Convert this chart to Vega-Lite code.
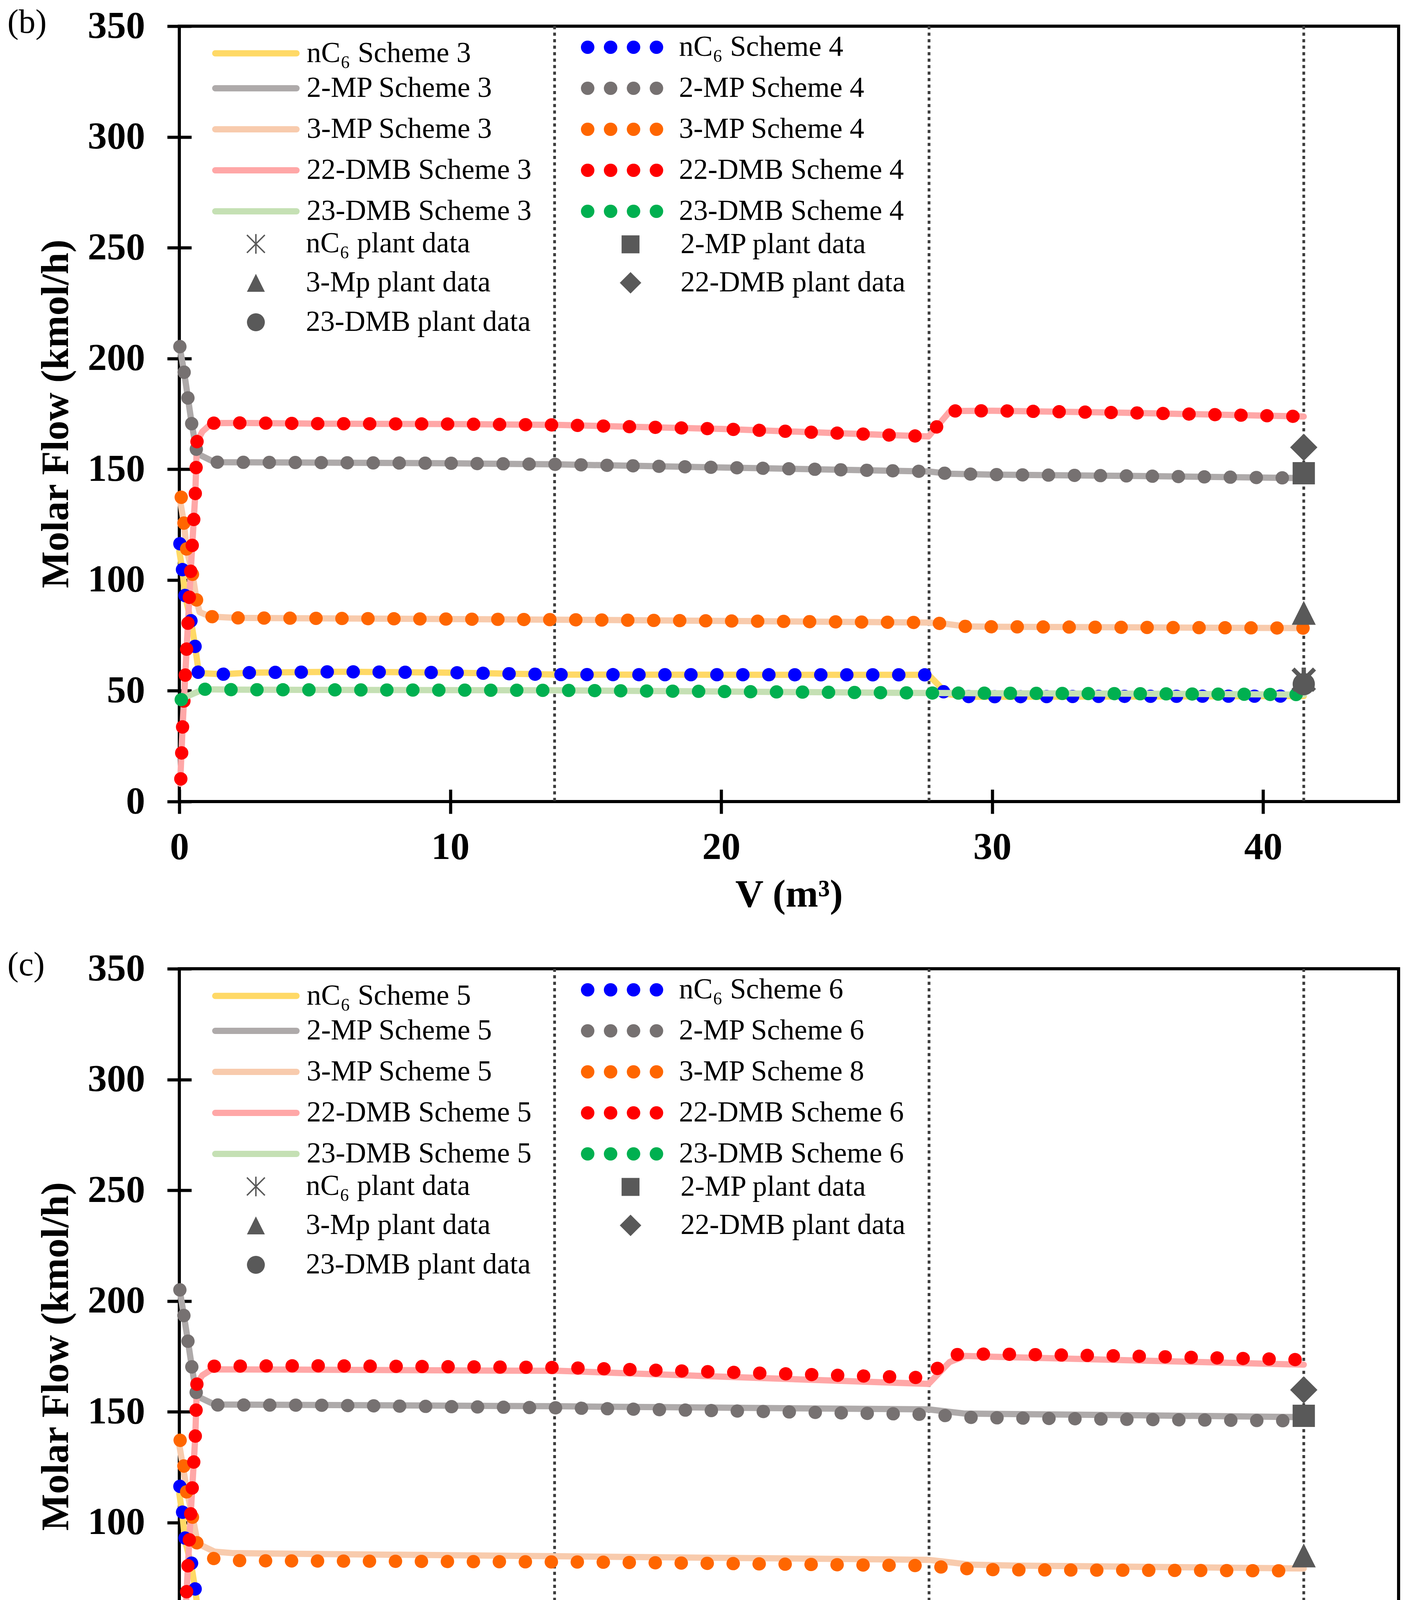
{
  "$schema": "https://vega.github.io/schema/vega-lite/v6.json",
  "background": "white",
  "padding": {"left": 15, "top": 11, "right": 10, "bottom": 10},
  "spacing": 80,
  "config": {
    "font": "Liberation Serif",
    "view": {"stroke": "black", "strokeWidth": 8},
    "axis": {"domain": false, "grid": false, "tickColor": "black", "tickWidth": 8, "tickSize": 62, "labelFont": "Liberation Serif", "labelFontWeight": "bold", "labelFontSize": 98, "labelColor": "black", "titleFont": "Liberation Serif", "titleFontWeight": "bold", "titleFontSize": 100, "titleColor": "black", "labelFlush": false, "labelOverlap": false},
    "legend": {"labelFont": "Liberation Serif", "labelFontSize": 74, "labelColor": "black", "labelLimit": 0}
  },
  "resolve": {"scale": {"color": "independent", "shape": "independent"}, "legend": {"color": "independent", "shape": "independent"}},
  "datasets": {
    "sections": [{"V": 13.85}, {"V": 27.67}, {"V": 41.5}],
    "plant": [
      {"label": "nC₆ plant data", "V": 41.5, "F": 55},
      {"label": "2-MP plant data", "V": 41.5, "F": 148.2},
      {"label": "3-Mp plant data", "V": 41.5, "F": 84.8},
      {"label": "22-DMB plant data", "V": 41.5, "F": 159.9},
      {"label": "23-DMB plant data", "V": 41.5, "F": 53}
    ],
    "b3": [
      {"series": "nC₆ Scheme 3", "V": 0, "F": 113}, {"series": "nC₆ Scheme 3", "V": 0.12, "F": 104}, {"series": "nC₆ Scheme 3", "V": 0.21, "F": 93}, {"series": "nC₆ Scheme 3", "V": 0.44, "F": 81}, {"series": "nC₆ Scheme 3", "V": 0.59, "F": 69.5}, {"series": "nC₆ Scheme 3", "V": 0.72, "F": 58}, {"series": "nC₆ Scheme 3", "V": 1.6, "F": 57.5}, {"series": "nC₆ Scheme 3", "V": 2.6, "F": 58.2}, {"series": "nC₆ Scheme 3", "V": 6, "F": 58.6}, {"series": "nC₆ Scheme 3", "V": 10, "F": 58.2}, {"series": "nC₆ Scheme 3", "V": 14, "F": 57.3}, {"series": "nC₆ Scheme 3", "V": 27.65, "F": 57.2}, {"series": "nC₆ Scheme 3", "V": 28.35, "F": 48.5}, {"series": "nC₆ Scheme 3", "V": 29.1, "F": 47.3}, {"series": "nC₆ Scheme 3", "V": 35, "F": 47.4}, {"series": "nC₆ Scheme 3", "V": 41.5, "F": 47.6},
      {"series": "2-MP Scheme 3", "V": 0, "F": 206}, {"series": "2-MP Scheme 3", "V": 0.18, "F": 193.7}, {"series": "2-MP Scheme 3", "V": 0.32, "F": 182}, {"series": "2-MP Scheme 3", "V": 0.46, "F": 170.3}, {"series": "2-MP Scheme 3", "V": 0.63, "F": 158.9}, {"series": "2-MP Scheme 3", "V": 0.75, "F": 156.5}, {"series": "2-MP Scheme 3", "V": 1.3, "F": 153.2}, {"series": "2-MP Scheme 3", "V": 5, "F": 153}, {"series": "2-MP Scheme 3", "V": 10, "F": 152.7}, {"series": "2-MP Scheme 3", "V": 14, "F": 152.2}, {"series": "2-MP Scheme 3", "V": 20, "F": 150.8}, {"series": "2-MP Scheme 3", "V": 27.65, "F": 149}, {"series": "2-MP Scheme 3", "V": 28.4, "F": 148}, {"series": "2-MP Scheme 3", "V": 30, "F": 147.6}, {"series": "2-MP Scheme 3", "V": 35, "F": 147}, {"series": "2-MP Scheme 3", "V": 41.5, "F": 146},
      {"series": "3-MP Scheme 3", "V": 0, "F": 138}, {"series": "3-MP Scheme 3", "V": 0.17, "F": 125.7}, {"series": "3-MP Scheme 3", "V": 0.27, "F": 114}, {"series": "3-MP Scheme 3", "V": 0.49, "F": 102.3}, {"series": "3-MP Scheme 3", "V": 0.64, "F": 90.8}, {"series": "3-MP Scheme 3", "V": 0.75, "F": 85.5}, {"series": "3-MP Scheme 3", "V": 1.15, "F": 83.5}, {"series": "3-MP Scheme 3", "V": 2.1, "F": 82.9}, {"series": "3-MP Scheme 3", "V": 14, "F": 82.1}, {"series": "3-MP Scheme 3", "V": 27.65, "F": 80.8}, {"series": "3-MP Scheme 3", "V": 28.3, "F": 80.2}, {"series": "3-MP Scheme 3", "V": 29, "F": 79.1}, {"series": "3-MP Scheme 3", "V": 30, "F": 78.9}, {"series": "3-MP Scheme 3", "V": 41.5, "F": 78.3},
      {"series": "22-DMB Scheme 3", "V": 0.03, "F": 8}, {"series": "22-DMB Scheme 3", "V": 0.12, "F": 33.6}, {"series": "22-DMB Scheme 3", "V": 0.27, "F": 68.9}, {"series": "22-DMB Scheme 3", "V": 0.42, "F": 103.9}, {"series": "22-DMB Scheme 3", "V": 0.59, "F": 139}, {"series": "22-DMB Scheme 3", "V": 0.65, "F": 162.4}, {"series": "22-DMB Scheme 3", "V": 0.85, "F": 167}, {"series": "22-DMB Scheme 3", "V": 1.2, "F": 170.8}, {"series": "22-DMB Scheme 3", "V": 2.2, "F": 170.9}, {"series": "22-DMB Scheme 3", "V": 5, "F": 170.6}, {"series": "22-DMB Scheme 3", "V": 10, "F": 170.4}, {"series": "22-DMB Scheme 3", "V": 14, "F": 170}, {"series": "22-DMB Scheme 3", "V": 20, "F": 168.2}, {"series": "22-DMB Scheme 3", "V": 27.65, "F": 164.8}, {"series": "22-DMB Scheme 3", "V": 28.45, "F": 176.3}, {"series": "22-DMB Scheme 3", "V": 30, "F": 176.4}, {"series": "22-DMB Scheme 3", "V": 35, "F": 175.5}, {"series": "22-DMB Scheme 3", "V": 41.5, "F": 173.8},
      {"series": "23-DMB Scheme 3", "V": 0, "F": 46}, {"series": "23-DMB Scheme 3", "V": 0.9, "F": 50.7}, {"series": "23-DMB Scheme 3", "V": 2, "F": 50.5}, {"series": "23-DMB Scheme 3", "V": 14, "F": 50.2}, {"series": "23-DMB Scheme 3", "V": 27.65, "F": 49}, {"series": "23-DMB Scheme 3", "V": 35, "F": 48.7}, {"series": "23-DMB Scheme 3", "V": 41.5, "F": 48.3}
    ],
    "b4": [
      {"series": "nC₆ Scheme 4", "V": 0.02, "F": 116.4}, {"series": "nC₆ Scheme 4", "V": 0.12, "F": 104.2}, {"series": "nC₆ Scheme 4", "V": 0.21, "F": 92.8}, {"series": "nC₆ Scheme 4", "V": 0.44, "F": 81.1}, {"series": "nC₆ Scheme 4", "V": 0.59, "F": 69.4}, {"series": "nC₆ Scheme 4", "V": 0.7, "F": 58}, {"series": "nC₆ Scheme 4", "V": 1.62, "F": 57.5}, {"series": "nC₆ Scheme 4", "V": 2.59, "F": 58.2}, {"series": "nC₆ Scheme 4", "V": 6, "F": 58.6}, {"series": "nC₆ Scheme 4", "V": 10, "F": 58.2}, {"series": "nC₆ Scheme 4", "V": 14, "F": 57.3}, {"series": "nC₆ Scheme 4", "V": 27.6, "F": 57.2}, {"series": "nC₆ Scheme 4", "V": 28.26, "F": 48.9}, {"series": "nC₆ Scheme 4", "V": 29.2, "F": 47.3}, {"series": "nC₆ Scheme 4", "V": 35, "F": 47.5}, {"series": "nC₆ Scheme 4", "V": 41.5, "F": 47.6},
      {"series": "2-MP Scheme 4", "V": 0.02, "F": 205.4}, {"series": "2-MP Scheme 4", "V": 0.18, "F": 193.7}, {"series": "2-MP Scheme 4", "V": 0.32, "F": 182}, {"series": "2-MP Scheme 4", "V": 0.46, "F": 170.3}, {"series": "2-MP Scheme 4", "V": 0.63, "F": 158.9}, {"series": "2-MP Scheme 4", "V": 0.75, "F": 156.5}, {"series": "2-MP Scheme 4", "V": 1.3, "F": 153.2}, {"series": "2-MP Scheme 4", "V": 5, "F": 153}, {"series": "2-MP Scheme 4", "V": 10, "F": 152.7}, {"series": "2-MP Scheme 4", "V": 14, "F": 152.2}, {"series": "2-MP Scheme 4", "V": 20, "F": 150.8}, {"series": "2-MP Scheme 4", "V": 27.65, "F": 149}, {"series": "2-MP Scheme 4", "V": 28.4, "F": 148}, {"series": "2-MP Scheme 4", "V": 30, "F": 147.6}, {"series": "2-MP Scheme 4", "V": 35, "F": 147}, {"series": "2-MP Scheme 4", "V": 41.5, "F": 146},
      {"series": "3-MP Scheme 4", "V": 0.07, "F": 137.4}, {"series": "3-MP Scheme 4", "V": 0.17, "F": 125.7}, {"series": "3-MP Scheme 4", "V": 0.27, "F": 114}, {"series": "3-MP Scheme 4", "V": 0.49, "F": 102.3}, {"series": "3-MP Scheme 4", "V": 0.64, "F": 90.8}, {"series": "3-MP Scheme 4", "V": 0.75, "F": 85.5}, {"series": "3-MP Scheme 4", "V": 1.15, "F": 83.5}, {"series": "3-MP Scheme 4", "V": 2.1, "F": 82.9}, {"series": "3-MP Scheme 4", "V": 14, "F": 82.1}, {"series": "3-MP Scheme 4", "V": 27.65, "F": 80.8}, {"series": "3-MP Scheme 4", "V": 28.3, "F": 80.2}, {"series": "3-MP Scheme 4", "V": 29, "F": 79.1}, {"series": "3-MP Scheme 4", "V": 30, "F": 78.9}, {"series": "3-MP Scheme 4", "V": 41.5, "F": 78.3},
      {"series": "22-DMB Scheme 4", "V": 0.055, "F": 10.2}, {"series": "22-DMB Scheme 4", "V": 0.12, "F": 33.6}, {"series": "22-DMB Scheme 4", "V": 0.27, "F": 68.9}, {"series": "22-DMB Scheme 4", "V": 0.42, "F": 103.9}, {"series": "22-DMB Scheme 4", "V": 0.59, "F": 139}, {"series": "22-DMB Scheme 4", "V": 0.65, "F": 162.4}, {"series": "22-DMB Scheme 4", "V": 0.85, "F": 167}, {"series": "22-DMB Scheme 4", "V": 1.2, "F": 170.8}, {"series": "22-DMB Scheme 4", "V": 2.2, "F": 170.9}, {"series": "22-DMB Scheme 4", "V": 5, "F": 170.6}, {"series": "22-DMB Scheme 4", "V": 10, "F": 170.4}, {"series": "22-DMB Scheme 4", "V": 14, "F": 170}, {"series": "22-DMB Scheme 4", "V": 20, "F": 168.2}, {"series": "22-DMB Scheme 4", "V": 27.65, "F": 164.8}, {"series": "22-DMB Scheme 4", "V": 28.45, "F": 176.3}, {"series": "22-DMB Scheme 4", "V": 30, "F": 176.4}, {"series": "22-DMB Scheme 4", "V": 35, "F": 175.5}, {"series": "22-DMB Scheme 4", "V": 41.5, "F": 173.8},
      {"series": "23-DMB Scheme 4", "V": 0.07, "F": 46}, {"series": "23-DMB Scheme 4", "V": 0.9, "F": 50.7}, {"series": "23-DMB Scheme 4", "V": 2, "F": 50.5}, {"series": "23-DMB Scheme 4", "V": 14, "F": 50.2}, {"series": "23-DMB Scheme 4", "V": 27.65, "F": 49}, {"series": "23-DMB Scheme 4", "V": 35, "F": 48.7}, {"series": "23-DMB Scheme 4", "V": 41.5, "F": 48.3}
    ],
    "c5": [
      {"series": "nC₆ Scheme 5", "V": 0, "F": 113}, {"series": "nC₆ Scheme 5", "V": 0.12, "F": 103}, {"series": "nC₆ Scheme 5", "V": 0.21, "F": 92}, {"series": "nC₆ Scheme 5", "V": 0.44, "F": 81}, {"series": "nC₆ Scheme 5", "V": 0.59, "F": 69.5}, {"series": "nC₆ Scheme 5", "V": 0.72, "F": 57}, {"series": "nC₆ Scheme 5", "V": 1.5, "F": 56.5}, {"series": "nC₆ Scheme 5", "V": 5, "F": 57}, {"series": "nC₆ Scheme 5", "V": 10, "F": 56.6}, {"series": "nC₆ Scheme 5", "V": 14, "F": 55.9}, {"series": "nC₆ Scheme 5", "V": 27.65, "F": 55.7}, {"series": "nC₆ Scheme 5", "V": 28.45, "F": 46.1}, {"series": "nC₆ Scheme 5", "V": 35, "F": 46.3}, {"series": "nC₆ Scheme 5", "V": 41.5, "F": 46.6},
      {"series": "2-MP Scheme 5", "V": 0, "F": 206}, {"series": "2-MP Scheme 5", "V": 0.17, "F": 193.4}, {"series": "2-MP Scheme 5", "V": 0.32, "F": 181.8}, {"series": "2-MP Scheme 5", "V": 0.46, "F": 170.4}, {"series": "2-MP Scheme 5", "V": 0.62, "F": 158.8}, {"series": "2-MP Scheme 5", "V": 0.75, "F": 156.5}, {"series": "2-MP Scheme 5", "V": 1.3, "F": 153.3}, {"series": "2-MP Scheme 5", "V": 5, "F": 153.1}, {"series": "2-MP Scheme 5", "V": 14, "F": 152.5}, {"series": "2-MP Scheme 5", "V": 27.65, "F": 151.1}, {"series": "2-MP Scheme 5", "V": 29, "F": 149.2}, {"series": "2-MP Scheme 5", "V": 35, "F": 148.5}, {"series": "2-MP Scheme 5", "V": 41.5, "F": 147.6},
      {"series": "3-MP Scheme 5", "V": 0, "F": 135}, {"series": "3-MP Scheme 5", "V": 0.3, "F": 113}, {"series": "3-MP Scheme 5", "V": 0.5, "F": 102}, {"series": "3-MP Scheme 5", "V": 0.68, "F": 90.5}, {"series": "3-MP Scheme 5", "V": 1.3, "F": 86.9}, {"series": "3-MP Scheme 5", "V": 2, "F": 86.2}, {"series": "3-MP Scheme 5", "V": 14, "F": 84.8}, {"series": "3-MP Scheme 5", "V": 27.65, "F": 83.2}, {"series": "3-MP Scheme 5", "V": 29.2, "F": 81}, {"series": "3-MP Scheme 5", "V": 30.9, "F": 80.6}, {"series": "3-MP Scheme 5", "V": 41.5, "F": 79.3},
      {"series": "22-DMB Scheme 5", "V": 0.03, "F": 8}, {"series": "22-DMB Scheme 5", "V": 0.12, "F": 33.6}, {"series": "22-DMB Scheme 5", "V": 0.27, "F": 68.9}, {"series": "22-DMB Scheme 5", "V": 0.42, "F": 103.9}, {"series": "22-DMB Scheme 5", "V": 0.59, "F": 139}, {"series": "22-DMB Scheme 5", "V": 0.65, "F": 162.8}, {"series": "22-DMB Scheme 5", "V": 0.85, "F": 166.5}, {"series": "22-DMB Scheme 5", "V": 1.2, "F": 169.2}, {"series": "22-DMB Scheme 5", "V": 5, "F": 169}, {"series": "22-DMB Scheme 5", "V": 14, "F": 168.5}, {"series": "22-DMB Scheme 5", "V": 27.65, "F": 162.6}, {"series": "22-DMB Scheme 5", "V": 28.43, "F": 172.5}, {"series": "22-DMB Scheme 5", "V": 29, "F": 175.2}, {"series": "22-DMB Scheme 5", "V": 35, "F": 173.3}, {"series": "22-DMB Scheme 5", "V": 41.5, "F": 171.3},
      {"series": "23-DMB Scheme 5", "V": 0, "F": 46}, {"series": "23-DMB Scheme 5", "V": 0.9, "F": 50.6}, {"series": "23-DMB Scheme 5", "V": 2, "F": 50.3}, {"series": "23-DMB Scheme 5", "V": 14, "F": 49.9}, {"series": "23-DMB Scheme 5", "V": 27.65, "F": 49}, {"series": "23-DMB Scheme 5", "V": 41.5, "F": 48.5}
    ],
    "c6": [
      {"series": "nC₆ Scheme 6", "V": 0.02, "F": 116.4}, {"series": "nC₆ Scheme 6", "V": 0.12, "F": 104.7}, {"series": "nC₆ Scheme 6", "V": 0.21, "F": 93}, {"series": "nC₆ Scheme 6", "V": 0.46, "F": 81.3}, {"series": "nC₆ Scheme 6", "V": 0.59, "F": 69.6}, {"series": "nC₆ Scheme 6", "V": 0.7, "F": 58}, {"series": "nC₆ Scheme 6", "V": 1.62, "F": 57.4}, {"series": "nC₆ Scheme 6", "V": 2.6, "F": 58}, {"series": "nC₆ Scheme 6", "V": 5, "F": 58.6}, {"series": "nC₆ Scheme 6", "V": 8, "F": 58.5}, {"series": "nC₆ Scheme 6", "V": 10, "F": 58.2}, {"series": "nC₆ Scheme 6", "V": 14, "F": 57.3}, {"series": "nC₆ Scheme 6", "V": 27.6, "F": 57}, {"series": "nC₆ Scheme 6", "V": 28.3, "F": 49.5}, {"series": "nC₆ Scheme 6", "V": 29.1, "F": 48}, {"series": "nC₆ Scheme 6", "V": 35, "F": 47.9}, {"series": "nC₆ Scheme 6", "V": 41.5, "F": 47.8},
      {"series": "2-MP Scheme 6", "V": 0.02, "F": 205.1}, {"series": "2-MP Scheme 6", "V": 0.17, "F": 193.4}, {"series": "2-MP Scheme 6", "V": 0.32, "F": 181.8}, {"series": "2-MP Scheme 6", "V": 0.46, "F": 170.4}, {"series": "2-MP Scheme 6", "V": 0.62, "F": 158.8}, {"series": "2-MP Scheme 6", "V": 0.75, "F": 156.5}, {"series": "2-MP Scheme 6", "V": 1.3, "F": 153.1}, {"series": "2-MP Scheme 6", "V": 5, "F": 153}, {"series": "2-MP Scheme 6", "V": 14, "F": 151.8}, {"series": "2-MP Scheme 6", "V": 27.3, "F": 148.9}, {"series": "2-MP Scheme 6", "V": 28.3, "F": 148.3}, {"series": "2-MP Scheme 6", "V": 29.2, "F": 147.5}, {"series": "2-MP Scheme 6", "V": 30.2, "F": 147.3}, {"series": "2-MP Scheme 6", "V": 35, "F": 146.6}, {"series": "2-MP Scheme 6", "V": 41.5, "F": 145.9},
      {"series": "3-MP Scheme 8", "V": 0.03, "F": 137.2}, {"series": "3-MP Scheme 8", "V": 0.17, "F": 125.5}, {"series": "3-MP Scheme 8", "V": 0.27, "F": 113.9}, {"series": "3-MP Scheme 8", "V": 0.49, "F": 102.2}, {"series": "3-MP Scheme 8", "V": 0.65, "F": 90.8}, {"series": "3-MP Scheme 8", "V": 0.8, "F": 85.5}, {"series": "3-MP Scheme 8", "V": 1.35, "F": 83.5}, {"series": "3-MP Scheme 8", "V": 2.3, "F": 82.8}, {"series": "3-MP Scheme 8", "V": 15, "F": 82.2}, {"series": "3-MP Scheme 8", "V": 27.2, "F": 80.6}, {"series": "3-MP Scheme 8", "V": 28.2, "F": 79.9}, {"series": "3-MP Scheme 8", "V": 29.1, "F": 79.2}, {"series": "3-MP Scheme 8", "V": 30.2, "F": 78.7}, {"series": "3-MP Scheme 8", "V": 41.5, "F": 78.2},
      {"series": "22-DMB Scheme 6", "V": 0.055, "F": 10.2}, {"series": "22-DMB Scheme 6", "V": 0.12, "F": 33.6}, {"series": "22-DMB Scheme 6", "V": 0.27, "F": 68.9}, {"series": "22-DMB Scheme 6", "V": 0.42, "F": 103.9}, {"series": "22-DMB Scheme 6", "V": 0.59, "F": 139}, {"series": "22-DMB Scheme 6", "V": 0.65, "F": 162.8}, {"series": "22-DMB Scheme 6", "V": 0.85, "F": 167}, {"series": "22-DMB Scheme 6", "V": 1.25, "F": 170.6}, {"series": "22-DMB Scheme 6", "V": 5, "F": 170.8}, {"series": "22-DMB Scheme 6", "V": 14, "F": 170}, {"series": "22-DMB Scheme 6", "V": 27.2, "F": 165.5}, {"series": "22-DMB Scheme 6", "V": 27.65, "F": 165.3}, {"series": "22-DMB Scheme 6", "V": 28.45, "F": 175.8}, {"series": "22-DMB Scheme 6", "V": 30, "F": 176.1}, {"series": "22-DMB Scheme 6", "V": 35, "F": 175.2}, {"series": "22-DMB Scheme 6", "V": 41.5, "F": 173.5},
      {"series": "23-DMB Scheme 6", "V": 0.03, "F": 46}, {"series": "23-DMB Scheme 6", "V": 0.9, "F": 50.8}, {"series": "23-DMB Scheme 6", "V": 2, "F": 50.4}, {"series": "23-DMB Scheme 6", "V": 12.4, "F": 50.1}, {"series": "23-DMB Scheme 6", "V": 27.7, "F": 49.2}, {"series": "23-DMB Scheme 6", "V": 29.7, "F": 49.2}, {"series": "23-DMB Scheme 6", "V": 41.5, "F": 48.4}
    ]
  },
  "vconcat": [
    {
      "width": 3121, "height": 1985,
      "title": {"text": "(b)", "anchor": "start", "frame": "group", "orient": "none", "align": "left", "fontSize": 86, "fontWeight": "normal", "font": "Liberation Serif", "color": "black", "baseline": "alphabetic", "offset": 0, "dx": -440, "dy": 17},
      "layer": [
        {
          "data": {"name": "sections"},
          "mark": {"type": "rule", "strokeDash": [8, 8.6], "strokeWidth": 7, "color": "#3c3c3c"},
          "encoding": {"x": {"field": "V", "type": "quantitative", "scale": {"domain": [0, 45], "nice": false}, "axis": {"values": [0, 10, 20, 30, 40], "format": "d", "offset": -31, "labelPadding": 38, "title": "V (m³)", "titleY": 299, "titleBaseline": "alphabetic"}}}
        },
        {
          "data": {"name": "b3"},
          "transform": [{"filter": {"field": "series", "oneOf": ["nC₆ Scheme 3", "2-MP Scheme 3", "3-MP Scheme 3", "22-DMB Scheme 3"]}}],
          "mark": {"type": "line", "strokeWidth": 16, "strokeCap": "round", "strokeJoin": "round"},
          "encoding": {
            "x": {"field": "V", "type": "quantitative", "scale": {"domain": [0, 45], "nice": false}, "axis": {"values": [0, 10, 20, 30, 40], "format": "d", "offset": -31, "labelPadding": 38, "title": "V (m³)", "titleY": 299, "titleBaseline": "alphabetic"}},
            "y": {"field": "F", "type": "quantitative", "scale": {"domain": [0, 350], "nice": false}, "axis": {"values": [0, 50, 100, 150, 200, 250, 300, 350], "offset": -31, "labelPadding": 57, "title": "Molar Flow (kmol/h)", "titleX": -347, "titleY": 992, "titleBaseline": "middle"}},
            "color": {"field": "series", "type": "nominal", "sort": null,
              "scale": {"domain": ["nC₆ Scheme 3", "nC₆ Scheme 4", "2-MP Scheme 3", "2-MP Scheme 4", "3-MP Scheme 3", "3-MP Scheme 4", "22-DMB Scheme 3", "22-DMB Scheme 4", "23-DMB Scheme 3", "23-DMB Scheme 4"], "range": ["#FFD966", "#0000FF", "#AEAAAA", "#767171", "#F8CBAD", "#FF6600", "#FFA7A7", "#FF0000", "#C5E0B4", "#00B050"]},
              "legend": {"title": null, "orient": "none", "legendX": 84, "legendY": 17, "direction": "horizontal", "columns": 2, "gridAlign": "all", "symbolType": "M-5.2,0L5.2,0", "symbolSize": 1600, "symbolStrokeWidth": 16, "symbolOffset": 75, "labelOffset": 93, "rowPadding": -43, "columnPadding": 75, "padding": 0,
                "encode": {"symbols": {"update": {"strokeWidth": {"signal": "datum.index % 2 ? 34 : 16"}, "strokeDash": {"signal": "datum.index % 2 ? [0.5, 58.2] : [1, 0]"}, "strokeCap": {"value": "round"}}}}}}
          }
        },
        {
          "data": {"name": "b4"},
          "transform": [{"filter": {"field": "series", "oneOf": ["nC₆ Scheme 4", "2-MP Scheme 4", "3-MP Scheme 4", "22-DMB Scheme 4"]}}],
          "mark": {"type": "line", "strokeWidth": 34, "strokeCap": "round", "strokeJoin": "round", "strokeDash": [0.5, 66]},
          "encoding": {
            "x": {"field": "V", "type": "quantitative"},
            "y": {"field": "F", "type": "quantitative", "axis": {"values": [0, 50, 100, 150, 200, 250, 300, 350], "offset": -31, "labelPadding": 57, "title": "Molar Flow (kmol/h)", "titleX": -347, "titleY": 992, "titleBaseline": "middle"}},
            "color": {"field": "series", "type": "nominal", "sort": null}
          }
        },
        {
          "data": {"name": "b3"},
          "transform": [{"filter": {"field": "series", "equal": "23-DMB Scheme 3"}}],
          "mark": {"type": "line", "strokeWidth": 16, "strokeCap": "round", "strokeJoin": "round"},
          "encoding": {
            "x": {"field": "V", "type": "quantitative"},
            "y": {"field": "F", "type": "quantitative", "axis": {"values": [0, 50, 100, 150, 200, 250, 300, 350], "offset": -31, "labelPadding": 57, "title": "Molar Flow (kmol/h)", "titleX": -347, "titleY": 992, "titleBaseline": "middle"}},
            "color": {"field": "series", "type": "nominal", "sort": null}
          }
        },
        {
          "data": {"name": "b4"},
          "transform": [{"filter": {"field": "series", "equal": "23-DMB Scheme 4"}}],
          "mark": {"type": "line", "strokeWidth": 34, "strokeCap": "round", "strokeJoin": "round", "strokeDash": [0.5, 66]},
          "encoding": {
            "x": {"field": "V", "type": "quantitative"},
            "y": {"field": "F", "type": "quantitative", "axis": {"values": [0, 50, 100, 150, 200, 250, 300, 350], "offset": -31, "labelPadding": 57, "title": "Molar Flow (kmol/h)", "titleX": -347, "titleY": 992, "titleBaseline": "middle"}},
            "color": {"field": "series", "type": "nominal", "sort": null}
          }
        },
        {
          "data": {"name": "plant"},
          "mark": {"type": "point", "filled": true, "color": "#595959", "stroke": "#595959", "strokeWidth": 7, "size": 2500, "opacity": 1},
          "encoding": {
            "x": {"field": "V", "type": "quantitative"},
            "y": {"field": "F", "type": "quantitative", "axis": {"values": [0, 50, 100, 150, 200, 250, 300, 350], "offset": -31, "labelPadding": 57, "title": "Molar Flow (kmol/h)", "titleX": -347, "titleY": 992, "titleBaseline": "middle"}},
            "shape": {"field": "label", "type": "nominal", "sort": null,
              "scale": {"domain": ["nC₆ plant data", "2-MP plant data", "3-Mp plant data", "22-DMB plant data", "23-DMB plant data"], "range": ["M-0.08,-1.1L0.08,-1.1L0.08,1.1L-0.08,1.1ZM-0.943,-1.057L1.057,0.943L0.943,1.057L-1.057,-0.943ZM-1.057,0.943L0.943,-1.057L1.057,-0.943L-0.943,1.057Z", "square", "M0,-1L1,1L-1,1Z", "M0,-1.2L1.2,0L0,1.2L-1.2,0Z", "circle"]},
              "legend": {"title": null, "orient": "none", "legendX": 170, "legendY": 519, "direction": "horizontal", "columns": 2, "gridAlign": "all", "symbolSize": 2100, "symbolFillColor": "#595959", "symbolStrokeColor": "#595959", "symbolStrokeWidth": 7, "symbolOffset": -11, "labelOffset": 91, "rowPadding": 17, "columnPadding": 213, "padding": 0,
                "encode": {"symbols": {"update": {"stroke": {"value": "#595959"}, "strokeWidth": {"value": 7}, "fill": {"value": "#595959"}, "opacity": {"value": 1}}}}}}
          }
        }
      ]
    },
    {
      "width": 3121, "height": 1985,
      "title": {"text": "(c)", "anchor": "start", "frame": "group", "orient": "none", "align": "left", "fontSize": 86, "fontWeight": "normal", "font": "Liberation Serif", "color": "black", "baseline": "alphabetic", "offset": 0, "dx": -440, "dy": 17},
      "layer": [
        {
          "data": {"name": "sections"},
          "mark": {"type": "rule", "strokeDash": [8, 8.6], "strokeWidth": 7, "color": "#3c3c3c"},
          "encoding": {"x": {"field": "V", "type": "quantitative", "scale": {"domain": [0, 45], "nice": false}, "axis": {"values": [0, 10, 20, 30, 40], "format": "d", "offset": -31, "labelPadding": 38, "title": "V (m³)", "titleY": 299, "titleBaseline": "alphabetic"}}}
        },
        {
          "data": {"name": "c5"},
          "transform": [{"filter": {"field": "series", "oneOf": ["nC₆ Scheme 5", "2-MP Scheme 5", "3-MP Scheme 5", "22-DMB Scheme 5"]}}],
          "mark": {"type": "line", "strokeWidth": 16, "strokeCap": "round", "strokeJoin": "round"},
          "encoding": {
            "x": {"field": "V", "type": "quantitative", "scale": {"domain": [0, 45], "nice": false}, "axis": {"values": [0, 10, 20, 30, 40], "format": "d", "offset": -31, "labelPadding": 38, "title": "V (m³)", "titleY": 299, "titleBaseline": "alphabetic"}},
            "y": {"field": "F", "type": "quantitative", "scale": {"domain": [0, 350], "nice": false}, "axis": {"values": [0, 50, 100, 150, 200, 250, 300, 350], "offset": -31, "labelPadding": 57, "title": "Molar Flow (kmol/h)", "titleX": -347, "titleY": 992, "titleBaseline": "middle"}},
            "color": {"field": "series", "type": "nominal", "sort": null,
              "scale": {"domain": ["nC₆ Scheme 5", "nC₆ Scheme 6", "2-MP Scheme 5", "2-MP Scheme 6", "3-MP Scheme 5", "3-MP Scheme 8", "22-DMB Scheme 5", "22-DMB Scheme 6", "23-DMB Scheme 5", "23-DMB Scheme 6"], "range": ["#FFD966", "#0000FF", "#AEAAAA", "#767171", "#F8CBAD", "#FF6600", "#FFA7A7", "#FF0000", "#C5E0B4", "#00B050"]},
              "legend": {"title": null, "orient": "none", "legendX": 84, "legendY": 17, "direction": "horizontal", "columns": 2, "gridAlign": "all", "symbolType": "M-5.2,0L5.2,0", "symbolSize": 1600, "symbolStrokeWidth": 16, "symbolOffset": 75, "labelOffset": 93, "rowPadding": -43, "columnPadding": 75, "padding": 0,
                "encode": {"symbols": {"update": {"strokeWidth": {"signal": "datum.index % 2 ? 34 : 16"}, "strokeDash": {"signal": "datum.index % 2 ? [0.5, 58.2] : [1, 0]"}, "strokeCap": {"value": "round"}}}}}}
          }
        },
        {
          "data": {"name": "c6"},
          "transform": [{"filter": {"field": "series", "oneOf": ["nC₆ Scheme 6", "2-MP Scheme 6", "3-MP Scheme 8", "22-DMB Scheme 6"]}}],
          "mark": {"type": "line", "strokeWidth": 34, "strokeCap": "round", "strokeJoin": "round", "strokeDash": [0.5, 66]},
          "encoding": {
            "x": {"field": "V", "type": "quantitative"},
            "y": {"field": "F", "type": "quantitative", "axis": {"values": [0, 50, 100, 150, 200, 250, 300, 350], "offset": -31, "labelPadding": 57, "title": "Molar Flow (kmol/h)", "titleX": -347, "titleY": 992, "titleBaseline": "middle"}},
            "color": {"field": "series", "type": "nominal", "sort": null}
          }
        },
        {
          "data": {"name": "c5"},
          "transform": [{"filter": {"field": "series", "equal": "23-DMB Scheme 5"}}],
          "mark": {"type": "line", "strokeWidth": 16, "strokeCap": "round", "strokeJoin": "round"},
          "encoding": {
            "x": {"field": "V", "type": "quantitative"},
            "y": {"field": "F", "type": "quantitative", "axis": {"values": [0, 50, 100, 150, 200, 250, 300, 350], "offset": -31, "labelPadding": 57, "title": "Molar Flow (kmol/h)", "titleX": -347, "titleY": 992, "titleBaseline": "middle"}},
            "color": {"field": "series", "type": "nominal", "sort": null}
          }
        },
        {
          "data": {"name": "c6"},
          "transform": [{"filter": {"field": "series", "equal": "23-DMB Scheme 6"}}],
          "mark": {"type": "line", "strokeWidth": 34, "strokeCap": "round", "strokeJoin": "round", "strokeDash": [0.5, 66]},
          "encoding": {
            "x": {"field": "V", "type": "quantitative"},
            "y": {"field": "F", "type": "quantitative", "axis": {"values": [0, 50, 100, 150, 200, 250, 300, 350], "offset": -31, "labelPadding": 57, "title": "Molar Flow (kmol/h)", "titleX": -347, "titleY": 992, "titleBaseline": "middle"}},
            "color": {"field": "series", "type": "nominal", "sort": null}
          }
        },
        {
          "data": {"name": "plant"},
          "mark": {"type": "point", "filled": true, "color": "#595959", "stroke": "#595959", "strokeWidth": 7, "size": 2500, "opacity": 1},
          "encoding": {
            "x": {"field": "V", "type": "quantitative"},
            "y": {"field": "F", "type": "quantitative", "axis": {"values": [0, 50, 100, 150, 200, 250, 300, 350], "offset": -31, "labelPadding": 57, "title": "Molar Flow (kmol/h)", "titleX": -347, "titleY": 992, "titleBaseline": "middle"}},
            "shape": {"field": "label", "type": "nominal", "sort": null,
              "scale": {"domain": ["nC₆ plant data", "2-MP plant data", "3-Mp plant data", "22-DMB plant data", "23-DMB plant data"], "range": ["M-0.08,-1.1L0.08,-1.1L0.08,1.1L-0.08,1.1ZM-0.943,-1.057L1.057,0.943L0.943,1.057L-1.057,-0.943ZM-1.057,0.943L0.943,-1.057L1.057,-0.943L-0.943,1.057Z", "square", "M0,-1L1,1L-1,1Z", "M0,-1.2L1.2,0L0,1.2L-1.2,0Z", "circle"]},
              "legend": {"title": null, "orient": "none", "legendX": 170, "legendY": 519, "direction": "horizontal", "columns": 2, "gridAlign": "all", "symbolSize": 2100, "symbolFillColor": "#595959", "symbolStrokeColor": "#595959", "symbolStrokeWidth": 7, "symbolOffset": -11, "labelOffset": 91, "rowPadding": 17, "columnPadding": 213, "padding": 0,
                "encode": {"symbols": {"update": {"stroke": {"value": "#595959"}, "strokeWidth": {"value": 7}, "fill": {"value": "#595959"}, "opacity": {"value": 1}}}}}}
          }
        }
      ]
    }
  ]
}
